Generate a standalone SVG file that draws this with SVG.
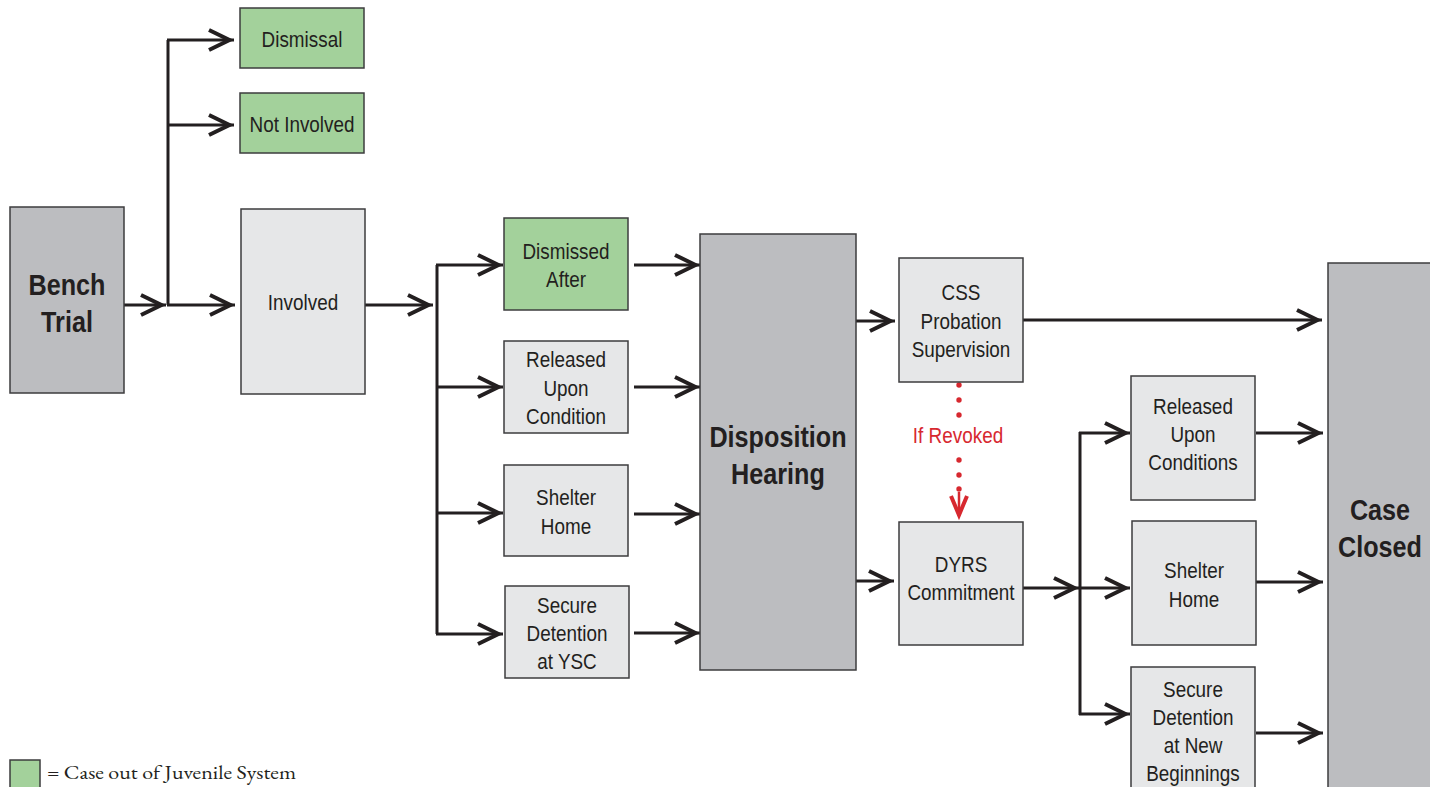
<svg xmlns="http://www.w3.org/2000/svg" width="1430" height="787" viewBox="0 0 1430 787">
<style>
.dk{fill:#bcbdc0;stroke:#3d3c3e;stroke-width:1.5}
.lt{fill:#e6e7e8;stroke:#3d3c3e;stroke-width:1.5}
.gr{fill:#a3d19b;stroke:#3d3c3e;stroke-width:1.5}
.t,.b,.r{font-family:"Liberation Sans",Arial,sans-serif;fill:#231f20;text-anchor:middle;transform-box:fill-box;transform-origin:center;transform:scaleX(0.84)}
.t{font-size:22.5px}
.b{font-size:30px;font-weight:bold}
.r{font-size:22px;fill:#d7282f;transform:scaleX(0.86)}
.c{fill:none;stroke:#231f20;stroke-width:3}
.ca{fill:none;stroke:#231f20;stroke-width:3;marker-end:url(#ah)}
</style>
<defs>
<marker id="ah" markerUnits="userSpaceOnUse" markerWidth="40" markerHeight="30" viewBox="-30 -15 40 30" refX="0" refY="0" orient="auto" overflow="visible">
<path d="M-25,-10 L-4.5,0 L-25,10" fill="none" stroke="#231f20" stroke-width="4" stroke-miterlimit="10"/>
</marker>
</defs>

<g id="connectors">
<path class="ca" d="M124,305 H166"/>
<path class="c" d="M168,305 V40"/>
<path class="ca" d="M167,40 H234"/>
<path class="ca" d="M167,125 H234"/>
<path class="ca" d="M167,305 H235"/>
<path class="ca" d="M365,305 H433"/>
<path class="c" d="M437,265 V634"/>
<path class="ca" d="M436,265 H503"/>
<path class="ca" d="M436,387 H503"/>
<path class="ca" d="M436,513 H503"/>
<path class="ca" d="M436,634 H503"/>
<path class="ca" d="M634,265 H700"/>
<path class="ca" d="M634,387 H700"/>
<path class="ca" d="M634,514 H700"/>
<path class="ca" d="M634,633 H700"/>
<path class="ca" d="M856,321 H895"/>
<path class="ca" d="M856,581 H894"/>
<path class="ca" d="M1023,320 H1322"/>
<path class="ca" d="M1023,588 H1079"/>
<path class="c" d="M1080,432 V715"/>
<path class="ca" d="M1079,433 H1130"/>
<path class="ca" d="M1079,588 H1130"/>
<path class="ca" d="M1079,714 H1130"/>
<path class="ca" d="M1256,433 H1323"/>
<path class="ca" d="M1256,582 H1323"/>
<path class="ca" d="M1256,733 H1323"/>
<g id="revoked" fill="#d7282f">
<circle cx="959" cy="385" r="2.7"/>
<circle cx="959" cy="400" r="2.7"/>
<circle cx="959" cy="415" r="2.7"/>
<circle cx="959" cy="460" r="2.7"/>
<circle cx="959" cy="475" r="2.7"/>
<circle cx="959" cy="489" r="2.7"/>
<path d="M959,492 V516" stroke="#d7282f" stroke-width="2.5"/>
<path d="M951,496 L959,515 L967,496" fill="none" stroke="#d7282f" stroke-width="4"/>
<text class="r" x="958" y="443">If Revoked</text>
</g>
</g>

<g id="bench-trial"><rect class="dk" x="10" y="207" width="114" height="186"/><text class="b" x="67" y="295">Bench</text><text class="b" x="67" y="332">Trial</text></g>
<g id="dismissal"><rect class="gr" x="240" y="8" width="124" height="60"/><text class="t" x="302" y="47">Dismissal</text></g>
<g id="not-involved"><rect class="gr" x="240" y="93" width="124" height="60"/><text class="t" x="302" y="132">Not Involved</text></g>
<g id="involved"><rect class="lt" x="241" y="209" width="124" height="185"/><text class="t" x="303" y="310">Involved</text></g>
<g id="dismissed-after"><rect class="gr" x="504" y="218" width="124" height="92"/><text class="t" x="566" y="259">Dismissed</text><text class="t" x="566" y="287">After</text></g>
<g id="released-upon-condition"><rect class="lt" x="504" y="341" width="124" height="92"/><text class="t" x="566" y="367">Released</text><text class="t" x="566" y="396">Upon</text><text class="t" x="566" y="424">Condition</text></g>
<g id="shelter-home-1"><rect class="lt" x="504" y="465" width="124" height="91"/><text class="t" x="566" y="505">Shelter</text><text class="t" x="566" y="534">Home</text></g>
<g id="secure-detention-ysc"><rect class="lt" x="505" y="586" width="124" height="92"/><text class="t" x="567" y="613">Secure</text><text class="t" x="567" y="641">Detention</text><text class="t" x="567" y="669">at YSC</text></g>
<g id="disposition-hearing"><rect class="dk" x="700" y="234" width="156" height="436"/><text class="b" x="778" y="447">Disposition</text><text class="b" x="778" y="484">Hearing</text></g>
<g id="css-probation"><rect class="lt" x="899" y="258" width="124" height="124"/><text class="t" x="961" y="300">CSS</text><text class="t" x="961" y="329">Probation</text><text class="t" x="961" y="357">Supervision</text></g>
<g id="dyrs-commitment"><rect class="lt" x="899" y="522" width="124" height="123"/><text class="t" x="961" y="572">DYRS</text><text class="t" x="961" y="600">Commitment</text></g>
<g id="released-upon-conditions"><rect class="lt" x="1131" y="376" width="124" height="124"/><text class="t" x="1193" y="414">Released</text><text class="t" x="1193" y="442">Upon</text><text class="t" x="1193" y="470">Conditions</text></g>
<g id="shelter-home-2"><rect class="lt" x="1132" y="521" width="124" height="124"/><text class="t" x="1194" y="578">Shelter</text><text class="t" x="1194" y="607">Home</text></g>
<g id="secure-detention-nb"><rect class="lt" x="1131" y="667" width="124" height="130"/><text class="t" x="1193" y="697">Secure</text><text class="t" x="1193" y="725">Detention</text><text class="t" x="1193" y="753">at New</text><text class="t" x="1193" y="781">Beginnings</text></g>
<g id="case-closed"><rect class="dk" x="1328" y="263" width="110" height="540"/><text class="b" x="1380" y="520">Case</text><text class="b" x="1380" y="557">Closed</text></g>

<g id="legend"><rect class="gr" x="10" y="760" width="30" height="35"/><text x="47" y="779" font-family="'EB Garamond','Liberation Serif','Times New Roman',serif" font-size="19" fill="#231f20" textLength="249" lengthAdjust="spacingAndGlyphs">= Case out of Juvenile System</text></g>
</svg>
